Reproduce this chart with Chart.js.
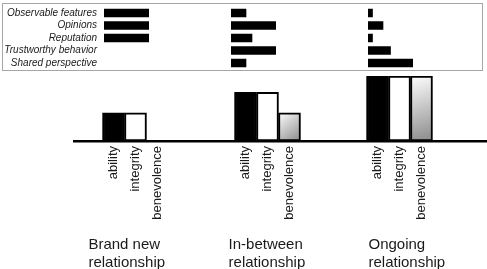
<!DOCTYPE html>
<html>
<head>
<meta charset="utf-8">
<script src="https://cdn.jsdelivr.net/npm/chart.js@4"></script>
<style>
  html, body { margin: 0; padding: 0; background: #fff; overflow: hidden; }
  body { width: 487px; height: 269px; position: relative; }
  #cueBox { position: absolute; left: 2px; top: 3px; width: 479px; height: 66px; border: 1px solid #a6a6a6; }
  canvas { position: absolute; }
</style>
</head>
<body>
<div id="cueBox"></div>
<canvas id="cuesNew" style="left:0;top:4px" width="160" height="66"></canvas>
<canvas id="cuesMid" style="left:231px;top:4px" width="60" height="66"></canvas>
<canvas id="cuesOld" style="left:368px;top:4px" width="60" height="66"></canvas>
<canvas id="trust" style="left:73px;top:70px" width="414" height="210"></canvas>
<script>
const stages = [['Brand new', 'relationship'], ['In-between', 'relationship'], ['Ongoing', 'relationship']];
const dimensions = ['ability', 'integrity', 'benevolence'];
const abilityLevels = [1.3, 2.25, 3];
const integrityLevels = [1.3, 2.25, 3];
const benevolenceLevels = [0, 1.3, 3];

const cues = ['Observable features', 'Opinions', 'Reputation', 'Trustworthy behavior', 'Shared perspective'];
const cuesBrandNew = [3, 3, 3, 0, 0];
const cuesInBetween = [1, 3, 1.4, 3, 1];
const cuesOngoing = [0.3, 1, 0.3, 1.5, 3];

Chart.defaults.font.family = "'Liberation Sans', Arial, sans-serif";
Chart.defaults.color = '#1a1a1a';
Chart.defaults.animation = false;

const noPad = s => { s.paddingTop = 0; s.paddingBottom = 0; s.paddingLeft = 0; s.paddingRight = 0; };

const cueChart = (id, values, withLabels) => new Chart(document.getElementById(id), {
  type: 'bar',
  data: {
    labels: cues,
    datasets: [{
      data: values,
      backgroundColor: ctx => (ctx.raw ? '#000' : 'rgba(0,0,0,0)'),
      barThickness: 8
    }]
  },
  options: {
    indexAxis: 'y',
    responsive: false,
    layout: { padding: { top: 2.75, bottom: 0.75, right: withLabels ? 11 : 15 } },
    plugins: { legend: { display: false }, tooltip: { enabled: false } },
    scales: {
      x: { display: false, min: 0, max: 3 },
      y: {
        display: withLabels,
        grid: { display: false, drawTicks: false },
        border: { display: false },
        ticks: { autoSkip: false, padding: 7, font: { size: 10, style: 'italic' } },
        afterFit: s => {
          if (withLabels) s.width = 104;
          noPad(s);
        }
      }
    }
  }
});

cueChart('cuesNew', cuesBrandNew, true);
cueChart('cuesMid', cuesInBetween, false);
cueChart('cuesOld', cuesOngoing, false);

// three slots per stage, then three empty slots
const slotOf = (stage, dim) => stage * 6 + dim + 0.5;
const points = (levels, dim) => levels.map((v, i) => ({ x: slotOf(i, dim), y: v }));

const fade = ctx => {
  const chart = ctx.chart;
  if (!chart.chartArea || !ctx.raw) return '#cccccc';
  const { x, y } = chart.scales;
  const cx = x.getPixelForValue(ctx.raw.x);
  const g = chart.ctx.createLinearGradient(cx - 11, y.getPixelForValue(ctx.raw.y), cx + 11, y.getPixelForValue(0));
  g.addColorStop(0, '#ffffff');
  g.addColorStop(1, '#8a8a8a');
  return g;
};

const tickValues = stages.flatMap((s, i) => dimensions.map((d, j) => slotOf(i, j)));
const stageTickValues = [-0.64, 5.73, 12.09];
const xMin = -1.341;
const xMax = xMin + 414 / 22;

new Chart(document.getElementById('trust'), {
  type: 'bar',
  data: {
    datasets: [
      { label: 'ability', data: points(abilityLevels, 0), backgroundColor: '#000' },
      { label: 'integrity', data: points(integrityLevels, 1), backgroundColor: '#fff' },
      { label: 'benevolence', data: points(benevolenceLevels, 2), backgroundColor: fade }
    ]
  },
  options: {
    responsive: false,
    layout: { padding: { top: 6, left: 0, right: 0, bottom: 0 } },
    plugins: { legend: { display: false }, tooltip: { enabled: false } },
    datasets: {
      bar: { grouped: false, barPercentage: 1, categoryPercentage: 1, borderColor: '#000', borderWidth: 2, borderSkipped: false }
    },
    scales: {
      y: { display: false, min: 0, max: 3, afterFit: noPad },
      x: {
        type: 'linear',
        offset: false,
        min: xMin,
        max: xMax,
        grid: { display: false, drawTicks: false, offset: false },
        border: { display: true, color: '#000', width: 2.5 },
        afterBuildTicks: s => { s.ticks = tickValues.map(v => ({ value: v })); },
        afterFit: s => { s.height = 89; noPad(s); },
        ticks: {
          autoSkip: false,
          minRotation: 90,
          maxRotation: 90,
          padding: 5,
          font: { size: 13 },
          callback: (v, i) => dimensions[i % 3]
        }
      },
      stage: {
        type: 'linear',
        position: 'bottom',
        offset: false,
        min: xMin,
        max: xMax,
        grid: { display: false, drawTicks: false, offset: false },
        border: { display: false },
        afterBuildTicks: s => { s.ticks = stageTickValues.map(v => ({ value: v })); },
        afterFit: s => { s.height = 50; noPad(s); },
        ticks: {
          autoSkip: false,
          maxRotation: 0,
          align: 'start',
          padding: 6,
          font: { size: 15, lineHeight: 1.2 },
          callback: (v, i) => stages[i]
        }
      }
    }
  }
});
</script>
</body>
</html>
